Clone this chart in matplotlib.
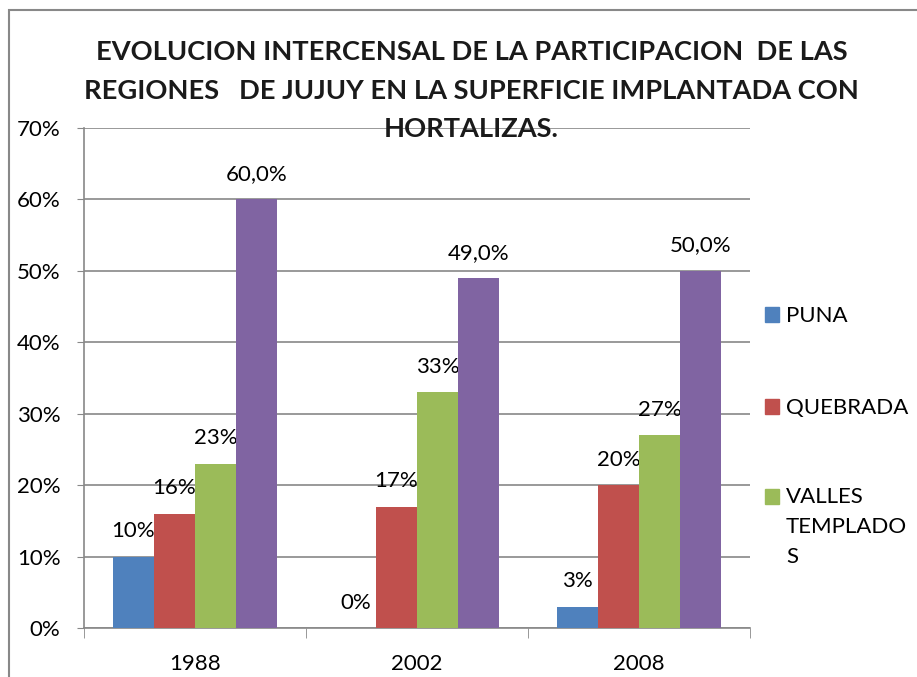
import matplotlib
matplotlib.use("Agg")
import matplotlib.pyplot as plt
from matplotlib.patches import Rectangle
import numpy as np

plt.rcParams['font.family'] = ['Lato', 'DejaVu Sans']

years = ['1988', '2002', '2008']
series_names = ['PUNA', 'QUEBRADA', 'VALLES\nTEMPLADO\nS', 'YUNGAS']
puna = [10, 0, 3]
quebrada = [16, 17, 20]
valles = [23, 33, 27]
yungas = [60, 49, 50]
bar_labels = [
    ['10%', '0%', '3%'],
    ['16%', '17%', '20%'],
    ['23%', '33%', '27%'],
    ['60,0%', '49,0%', '50,0%'],
]
colors = ['#4F81BD', '#C0504D', '#9BBB59', '#8064A2']

fig = plt.figure(figsize=(9.17, 6.77), dpi=100)
# plot area: x 84..750 px, y 128..628 px
ax = fig.add_axes([0.0916, 0.0724, 0.7263, 0.7385])

x = np.arange(len(years))
w = 0.185
all_series = [puna, quebrada, valles, yungas]
for i, vals in enumerate(all_series):
    pos = x + (i - 1.5) * w
    bars = ax.bar(pos, vals, w, color=colors[i], label=series_names[i], zorder=3)
    for b, txt in zip(bars, bar_labels[i]):
        ax.annotate(txt, (b.get_x() + b.get_width() / 2, b.get_height()),
                    xytext=(0, 11), textcoords='offset points',
                    ha='center', va='bottom', fontsize=16, color='black')

ax.set_xlim(-0.5, 2.5)
ax.set_ylim(0, 70)
ax.set_yticks(range(0, 71, 10))
ax.set_yticklabels([f'{v}%' for v in range(0, 71, 10)])
ax.set_xticks(x)
ax.set_xticklabels(years)
ax.set_xticks([-0.5, 0.5, 1.5, 2.5], minor=True)
ax.tick_params(axis='x', which='major', length=0, pad=19, labelsize=16)
ax.tick_params(axis='x', which='minor', length=7, color='#888888', direction='out')
ax.tick_params(axis='y', length=5, color='#888888', pad=12, labelsize=16)
ax.yaxis.grid(True, color='#888888', linewidth=1.2, zorder=0)
for s in ['top', 'right']:
    ax.spines[s].set_visible(False)
ax.spines['left'].set_color('#888888')
ax.spines['bottom'].set_color('#888888')
ax.spines['left'].set_linewidth(1.2)
ax.spines['bottom'].set_linewidth(1.2)

fig.text(0.514, 0.866,
         'EVOLUCION INTERCENSAL DE LA PARTICIPACION  DE LAS\n'
         'REGIONES   DE JUJUY EN LA SUPERFICIE IMPLANTADA CON\n'
         'HORTALIZAS.',
         ha='center', va='center', fontsize=19.6, fontweight='bold',
         linespacing=1.72, color='#1a1a1a')

# legend (only first three entries are visible in the original)
leg_y = [0.535, 0.399, 0.267]
for i in range(3):
    fig.patches.append(Rectangle((0.834, leg_y[i] - 0.011), 0.016, 0.022,
                                 transform=fig.transFigure, color=colors[i]))
    fig.text(0.857, leg_y[i] + 0.013, series_names[i], ha='left', va='top',
             fontsize=16, linespacing=1.6)

# outer chart frame
fig.patches.append(Rectangle((0.0098, -0.1), 1.2, 1.085, transform=fig.transFigure,
                             fill=False, edgecolor='#888888', linewidth=1.5))

fig.savefig('out.png', dpi=100)
